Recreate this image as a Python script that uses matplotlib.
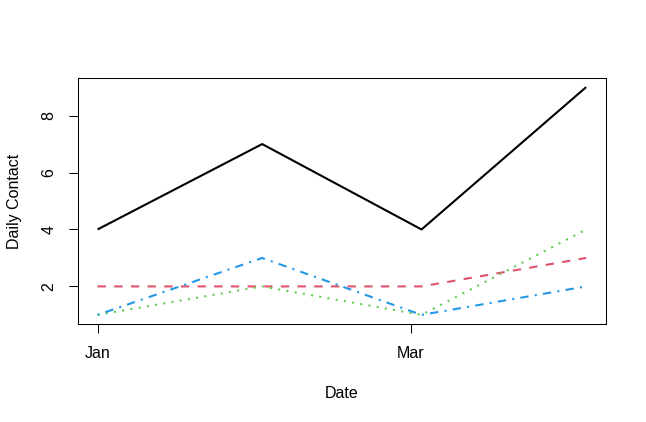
import pandas as pd
import matplotlib
matplotlib.use('Agg')
import matplotlib.pyplot as plt
import matplotlib.dates as mdates

# data
dates = pd.to_datetime(['2021-01-01', '2021-02-01', '2021-03-03', '2021-04-03'])
contact_1 = [4, 7, 4, 9]
contact_2 = [2, 2, 2, 3]
contact_3 = [1, 2, 1, 4]
contact_4 = [1, 3, 1, 2]

tick_dates = pd.to_datetime(['2021-01-01', '2021-03-01'])
tick_labels = ['Jan', 'Mar']
y_ticks = [2, 4, 6, 8]

series = [contact_1, contact_2, contact_3, contact_4]
colors = ['black', '#DF536B', '#61D04F', '#2297E6']
dash_styles = [None, (0, (4, 4)), (0, (1, 3)), (0, (1, 3, 4, 3))]

plt.rcParams['font.family'] = ['Liberation Sans', 'DejaVu Sans']

fig = plt.figure(figsize=(6.46, 4.22), dpi=100)
ax = fig.add_axes([78 / 646, 1 - 324 / 422, (605.7 - 78) / 646, (324 - 78) / 422])

for vals, col, ds in zip(series, colors, dash_styles):
    ls = '-' if ds is None else ds
    ax.plot(dates, vals, color=col, linestyle=ls, linewidth=1.5,
            dash_capstyle='butt', solid_capstyle='butt')

ax.margins(x=0.04, y=0.04)
ax.set_xticks(tick_dates)
ax.set_xticklabels(tick_labels)
ax.set_yticks(y_ticks)
ax.set_yticklabels([str(v) for v in y_ticks], rotation=90, va='center')

ax.tick_params(direction='out', length=6.5, width=0.75, labelsize=11.5, color='black')
ax.tick_params(axis='x', pad=9)
ax.tick_params(axis='y', pad=9)
for s in ax.spines.values():
    s.set_linewidth(0.75)

ax.set_xlabel('Date', fontsize=11.5, labelpad=18)
ax.set_ylabel('Daily Contact', fontsize=11.5, labelpad=14)

fig.savefig('out.png', dpi=100)
